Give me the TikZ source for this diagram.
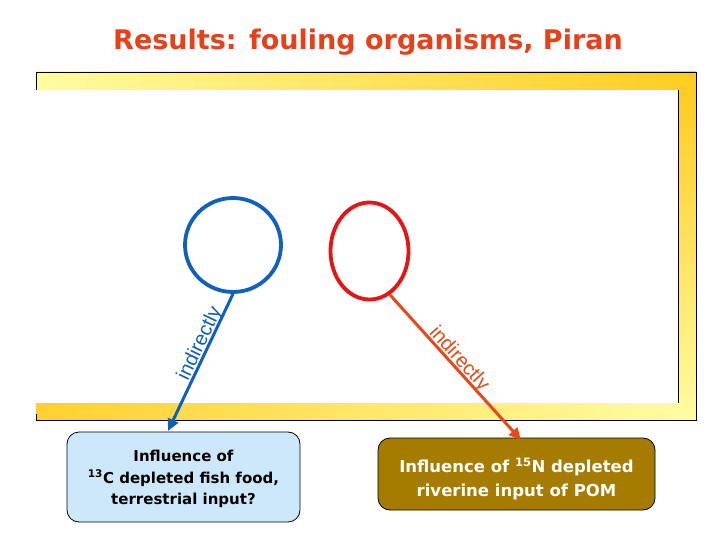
\documentclass[tikz,border=0pt]{standalone}
\usepackage{fontspec}
\setmainfont{DejaVu Sans}
\newfontfamily\arrfont{Liberation Sans}
\usetikzlibrary{arrows.meta,shapes.geometric}
\definecolor{titlered}{RGB}{232,64,24}
\definecolor{lightyel}{RGB}{255,252,160}
\definecolor{goldyel}{RGB}{255,204,34}
\definecolor{blueln}{RGB}{16,96,192}
\definecolor{redcirc}{RGB}{230,20,20}
\definecolor{redarr}{RGB}{232,72,26}
\definecolor{boxblue}{RGB}{205,232,250}
\definecolor{boxbrown}{RGB}{166,124,0}
\tikzset{
  ringnode/.style={ellipse, draw, line width=3.8pt, inner sep=0pt},
  infobox/.style={draw=black, line width=0.8pt, rounded corners=12pt},
  boxtext/.style={align=center, font=\bfseries\fontsize{15}{21.5}\selectfont},
  connarrow/.style={line width=3pt, -{Triangle[length=12pt,width=11pt]}},
  arrlabel/.style={font=\arrfont\fontsize{20}{20}\selectfont, inner sep=0.5pt}
}
\begin{document}
\begin{tikzpicture}[x=1pt,y=-1pt]
\useasboundingbox (0,0) rectangle (720,540);
% title
\node[text=titlered, font=\bfseries\fontsize{27}{30}\selectfont] (title) at (368,42) {Results: fouling organisms, Piran};
% frame bars
\shade[left color=lightyel, right color=goldyel] (36,72) rectangle (696,90);
\shade[top color=goldyel, bottom color=lightyel] (678,90) rectangle (696,420);
\shade[left color=goldyel!90!lightyel, right color=lightyel] (36,403) rectangle (678,420);
\fill[white] (36,90) rectangle (678,403);
\draw[line width=0.8pt] (36,90) -- (36,72) -- (696,72) -- (696,420) -- (36,420) -- (36,414);
\draw[line width=0.8pt] (678,90) -- (678,403);
% circles
\node[ringnode, draw=blueln, minimum width=96pt, minimum height=94pt] (bc) at (233,245) {};
\node[ringnode, draw=redcirc, minimum width=78pt, minimum height=97pt] (rc) at (369.5,251) {};
% boxes
\node[infobox, fill=boxblue, minimum width=233pt, minimum height=90pt] (lbox) at (183.5,477) {};
\node[boxtext] (ltext) at ([yshift=-2pt]lbox.center) {Influence of\\\textsuperscript{13}C depleted fish food,\\terrestrial input?};
\node[infobox, fill=boxbrown, minimum width=277pt, minimum height=72pt] (rbox) at (516.5,474) {};
\node[boxtext, text=white, font=\bfseries\fontsize{16.5}{24}\selectfont] (rtext) at ([yshift=-5pt]rbox.center) {Influence of \textsuperscript{15}N depleted\\riverine input of POM};
% connectors
\coordinate (btip) at (168,431);
\coordinate (rtip) at (521,440);
\draw[connarrow, draw=blueln, fill=blueln] (bc.south) -- (btip)
  node[pos=0.39, sloped, above=-3pt, arrlabel, text=blueln] (bl) {indirectly};
\draw[connarrow, draw=redarr, fill=redarr] (rc.-65) -- (rtip)
  node[pos=0.48, sloped, above=-3pt, arrlabel, text=redarr] (rl) {indirectly};
\end{tikzpicture}
\end{document}
